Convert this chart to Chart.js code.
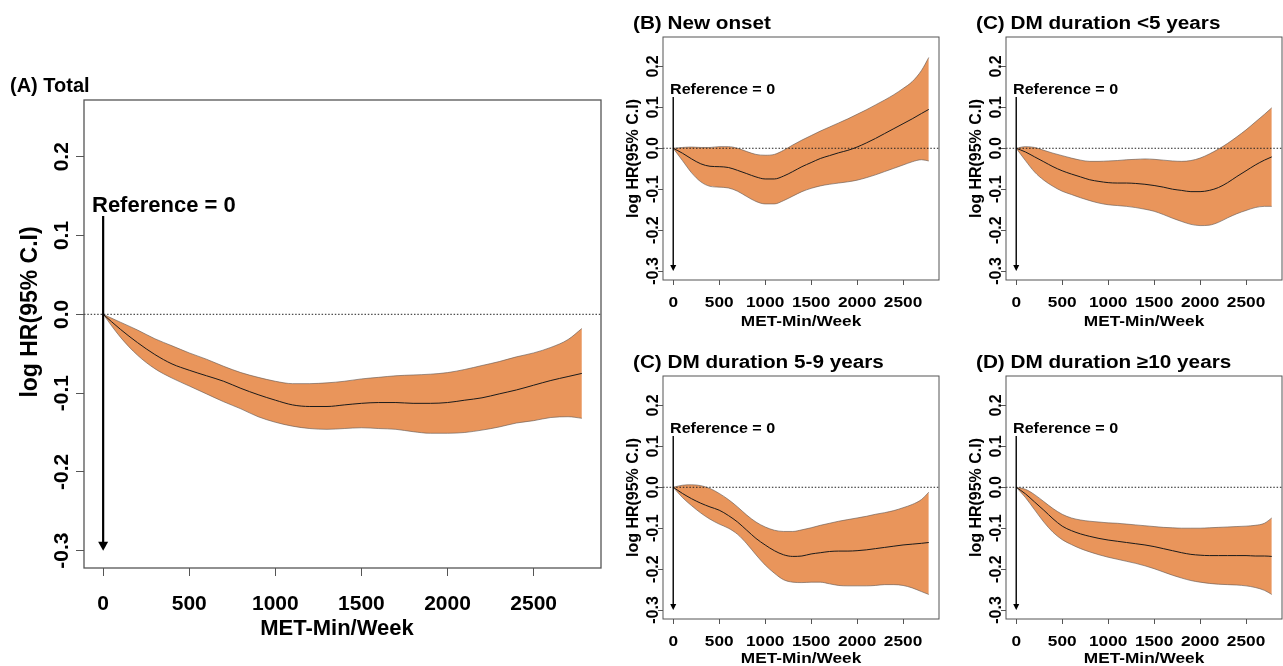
<!DOCTYPE html>
<html><head><meta charset="utf-8">
<script src="https://cdn.jsdelivr.net/npm/chart.js@4.4.1/dist/chart.umd.min.js"></script>
<style>
html,body{margin:0;padding:0;background:#fff;}
body{width:1283px;height:666px;position:relative;overflow:hidden;}
canvas{position:absolute;}
</style></head><body>
<canvas id="cA" width="615" height="666" style="left:0;top:0"></canvas>
<canvas id="cB" width="330" height="333" style="left:615px;top:0"></canvas>
<canvas id="cC1" width="326" height="333" style="left:957px;top:0"></canvas>
<canvas id="cC2" width="330" height="333" style="left:615px;top:333px"></canvas>
<canvas id="cD" width="326" height="333" style="left:957px;top:333px"></canvas>
<script>
// MET-Min/Week grid the curves are read at
const metMin=[0,100,200,300,400,500,600,700,800,900,1000,1100,1200,1300,1400,1500,1600,1700,1800,1900,2000,2100,2200,2300,2400,2500,2600,2700,2780];
const xTicks=[0,500,1000,1500,2000,2500];
const yTicks=[-0.3,-0.2,-0.1,0,0.1,0.2];

// (A) Total
const totalFit=[0,-0.019,-0.036,-0.051,-0.063,-0.071,-0.078,-0.085,-0.094,-0.102,-0.109,-0.115,-0.117,-0.117,-0.115,-0.113,-0.112,-0.112,-0.113,-0.113,-0.112,-0.109,-0.106,-0.101,-0.096,-0.090,-0.084,-0.079,-0.075];
const totalUpper=[0,-0.010,-0.020,-0.031,-0.040,-0.049,-0.057,-0.066,-0.074,-0.080,-0.085,-0.088,-0.088,-0.087,-0.085,-0.082,-0.080,-0.078,-0.077,-0.076,-0.074,-0.070,-0.065,-0.060,-0.054,-0.049,-0.042,-0.032,-0.018];
const totalLower=[0,-0.029,-0.052,-0.069,-0.081,-0.091,-0.101,-0.111,-0.120,-0.130,-0.137,-0.142,-0.145,-0.146,-0.145,-0.144,-0.145,-0.146,-0.149,-0.151,-0.151,-0.150,-0.147,-0.143,-0.138,-0.135,-0.131,-0.130,-0.132];
// (B) New onset
const newFit=[0,-0.012,-0.026,-0.038,-0.044,-0.045,-0.047,-0.054,-0.062,-0.070,-0.075,-0.075,-0.068,-0.057,-0.045,-0.035,-0.025,-0.018,-0.011,-0.005,0.003,0.013,0.024,0.036,0.048,0.060,0.072,0.085,0.095];
const newUpper=[0,0.002,0.003,0.002,0.002,0.004,0.004,0.000,-0.008,-0.015,-0.017,-0.015,-0.005,0.008,0.020,0.031,0.042,0.052,0.062,0.072,0.083,0.094,0.106,0.118,0.131,0.146,0.163,0.190,0.222];
const newLower=[0,-0.030,-0.060,-0.082,-0.093,-0.095,-0.097,-0.105,-0.118,-0.130,-0.136,-0.136,-0.128,-0.117,-0.106,-0.098,-0.092,-0.088,-0.085,-0.082,-0.078,-0.072,-0.065,-0.057,-0.049,-0.041,-0.033,-0.028,-0.031];
// (C) DM duration <5 years
const lt5Fit=[0,-0.009,-0.021,-0.033,-0.045,-0.055,-0.063,-0.070,-0.077,-0.081,-0.084,-0.085,-0.085,-0.086,-0.088,-0.091,-0.095,-0.100,-0.103,-0.106,-0.106,-0.103,-0.096,-0.084,-0.069,-0.055,-0.041,-0.029,-0.021];
const lt5Upper=[0,0.004,0.002,-0.005,-0.012,-0.018,-0.024,-0.029,-0.032,-0.032,-0.031,-0.030,-0.028,-0.027,-0.026,-0.027,-0.029,-0.031,-0.032,-0.030,-0.024,-0.014,-0.002,0.012,0.028,0.045,0.064,0.083,0.099];
const lt5Lower=[0,-0.030,-0.058,-0.078,-0.093,-0.105,-0.113,-0.121,-0.128,-0.134,-0.138,-0.140,-0.142,-0.145,-0.149,-0.154,-0.162,-0.171,-0.179,-0.186,-0.189,-0.188,-0.181,-0.170,-0.160,-0.152,-0.145,-0.142,-0.142];
// (C) DM duration 5-9 years
const mid5Fit=[0,-0.015,-0.028,-0.039,-0.048,-0.056,-0.069,-0.085,-0.105,-0.125,-0.141,-0.155,-0.165,-0.169,-0.168,-0.163,-0.160,-0.157,-0.156,-0.156,-0.155,-0.153,-0.150,-0.147,-0.144,-0.141,-0.139,-0.137,-0.135];
const mid5Upper=[0,0.005,0.006,0.004,-0.003,-0.015,-0.030,-0.048,-0.068,-0.085,-0.097,-0.105,-0.108,-0.108,-0.104,-0.099,-0.093,-0.088,-0.083,-0.079,-0.075,-0.071,-0.066,-0.062,-0.057,-0.050,-0.042,-0.030,-0.012];
const mid5Lower=[0,-0.025,-0.045,-0.063,-0.078,-0.090,-0.100,-0.115,-0.138,-0.165,-0.190,-0.210,-0.226,-0.232,-0.233,-0.232,-0.232,-0.236,-0.240,-0.241,-0.241,-0.241,-0.240,-0.238,-0.238,-0.240,-0.246,-0.255,-0.262];
// (D) DM duration >=10 years
const ge10Fit=[0,-0.016,-0.036,-0.056,-0.077,-0.095,-0.106,-0.114,-0.120,-0.125,-0.129,-0.132,-0.135,-0.138,-0.141,-0.145,-0.150,-0.155,-0.160,-0.164,-0.166,-0.167,-0.167,-0.167,-0.167,-0.167,-0.168,-0.168,-0.169];
const ge10Upper=[0,-0.005,-0.018,-0.035,-0.052,-0.066,-0.075,-0.080,-0.083,-0.085,-0.087,-0.088,-0.090,-0.092,-0.094,-0.096,-0.098,-0.099,-0.100,-0.100,-0.100,-0.099,-0.098,-0.097,-0.096,-0.095,-0.093,-0.088,-0.075];
const ge10Lower=[0,-0.025,-0.055,-0.085,-0.110,-0.128,-0.140,-0.150,-0.158,-0.165,-0.171,-0.176,-0.181,-0.186,-0.192,-0.199,-0.207,-0.215,-0.222,-0.228,-0.232,-0.235,-0.237,-0.238,-0.239,-0.241,-0.245,-0.252,-0.262];

const FF='"Liberation Sans", Arial, Helvetica, sans-serif';
const BAND='#E9955B';

// look of the big and the small panels (offsets are from the plot box)
const bigStyle={tick:8,fTick:21,fXT:22,fYT:23,fTitle:20,fRef:22,sx:1,titleX:-74,titleY:-8,refX:8,refY:112,arrowTop:116,
  yLab:-16,yTitleX:-47,yTitleY:312,xLab:42,xTitle:67,xTitleX:337,arrowW:2.2,headW:10,headH:9,box:1.3,fitW:1};
const smallStyle={tick:5,fTick:15,fYTick:16,fXT:15,fYT:16,fTitle:18,fRef:14,sx:1.15,titleX:-30,titleY:-8,refX:7,refY:57,arrowTop:60,
  yLab:-5,yTitleX:-25,yTitleY:null,xLab:27,xTitle:46,xTitleX:null,arrowW:1.4,headW:6,headH:6,box:1,fitW:1};

function txt(ctx,s,x,y,size,align,sx,rot){
  ctx.save(); ctx.translate(x,y); if(rot) ctx.rotate(rot); ctx.scale(sx,1);
  ctx.font='bold '+size+'px '+FF; ctx.textAlign=align; ctx.textBaseline='alphabetic'; ctx.fillStyle='#000';
  ctx.fillText(s,0,0); ctx.restore();
}

const deco={
  id:'deco',
  afterDatasetsDraw(chart,args,o){
    const {ctx,chartArea:a,scales:{y}}=chart, py=y.getPixelForValue(0);
    ctx.save(); ctx.strokeStyle='#222'; ctx.lineWidth=1; ctx.setLineDash([1.5,1.8]);
    ctx.beginPath(); ctx.moveTo(a.left,py); ctx.lineTo(a.right,py); ctx.stroke(); ctx.restore();
  },
  afterDraw(chart,args,o){
    const st=o.st, {ctx,chartArea:a,scales:{x,y}}=chart;
    ctx.save(); ctx.strokeStyle='#555'; ctx.lineWidth=st.box; ctx.strokeRect(a.left,a.top,a.right-a.left,a.bottom-a.top); ctx.restore();
    txt(ctx,o.title,a.left+st.titleX,a.top+st.titleY,st.fTitle,'left',st.sx);
    x.ticks.forEach(t=>txt(ctx,String(t.value),x.getPixelForValue(t.value),a.bottom+st.xLab,st.fTick,'center',st.sx));
    y.ticks.forEach(t=>txt(ctx,t.value.toFixed(1),a.left+st.yLab,y.getPixelForValue(t.value),st.fYTick||st.fTick,'center',1,-Math.PI/2));
    const xtx=st.xTitleX==null?(a.left+a.right)/2:st.xTitleX;
    txt(ctx,'MET-Min/Week',xtx,a.bottom+st.xTitle,st.fXT,'center',st.sx);
    const yty=st.yTitleY==null?(a.top+a.bottom)/2:st.yTitleY;
    txt(ctx,'log HR(95% C.I)',a.left+st.yTitleX,yty,st.fYT,'center',1,-Math.PI/2);
    txt(ctx,'Reference = 0',a.left+st.refX,a.top+st.refY,st.fRef,'left',st.sx);
    // arrow from the label down to -0.3
    const ax=x.getPixelForValue(0), tip=y.getPixelForValue(-0.3);
    ctx.save(); ctx.strokeStyle='#000'; ctx.fillStyle='#000'; ctx.lineWidth=st.arrowW;
    ctx.beginPath(); ctx.moveTo(ax,a.top+st.arrowTop); ctx.lineTo(ax,tip-st.headH+1); ctx.stroke();
    ctx.beginPath(); ctx.moveTo(ax-st.headW/2,tip-st.headH); ctx.lineTo(ax+st.headW/2,tip-st.headH); ctx.lineTo(ax,tip); ctx.closePath(); ctx.fill();
    ctx.restore();
  }
};

function series(arr){ return metMin.map((v,i)=>({x:v,y:arr[i]})); }

function panel(id,title,fit,up,lo,st,pad){
  const tickGrid={drawOnChartArea:false,drawTicks:true,tickLength:st.tick,color:'#555',lineWidth:1};
  new Chart(document.getElementById(id),{
    type:'line',
    data:{datasets:[
      {data:series(up),borderColor:'rgba(95,85,80,0.6)',borderWidth:1,backgroundColor:BAND,fill:'+1',pointRadius:0,cubicInterpolationMode:'monotone',order:2},
      {data:series(lo),borderColor:'rgba(95,85,80,0.6)',borderWidth:1,fill:false,pointRadius:0,cubicInterpolationMode:'monotone',order:1},
      {data:series(fit),borderColor:'#1a1a1a',borderWidth:st.fitW,fill:false,pointRadius:0,cubicInterpolationMode:'monotone',order:0}
    ]},
    options:{
      responsive:false,animation:false,events:[],
      layout:{padding:pad,autoPadding:false},
      plugins:{legend:{display:false},tooltip:{enabled:false},deco:{title,st}},
      scales:{
        x:{type:'linear',min:-111.2,max:2891.2,grid:tickGrid,border:{display:false},ticks:{display:false},
           afterBuildTicks:s=>{s.ticks=xTicks.map(v=>({value:v}));},afterFit:s=>{s.height=0;}},
        y:{type:'linear',min:-0.322,max:0.272,grid:tickGrid,border:{display:false},ticks:{display:false},
           afterBuildTicks:s=>{s.ticks=yTicks.map(v=>({value:v}));},afterFit:s=>{s.width=0;}}
      }
    },
    plugins:[deco]
  });
}

panel('cA','(A) Total',totalFit,totalUpper,totalLower,bigStyle,{left:84,top:100,right:14,bottom:98});
panel('cB','(B) New onset',newFit,newUpper,newLower,smallStyle,{left:48,top:37,right:6,bottom:53});
panel('cC1','(C) DM duration <5 years',lt5Fit,lt5Upper,lt5Lower,smallStyle,{left:49,top:37,right:1,bottom:53});
panel('cC2','(C) DM duration 5-9 years',mid5Fit,mid5Upper,mid5Lower,Object.assign({},smallStyle,{xTitle:44}),{left:48,top:43,right:6,bottom:47});
panel('cD','(D) DM duration \u226510 years',ge10Fit,ge10Upper,ge10Lower,Object.assign({},smallStyle,{xTitle:44}),{left:49,top:43,right:1,bottom:47});
</script>
</body></html>
